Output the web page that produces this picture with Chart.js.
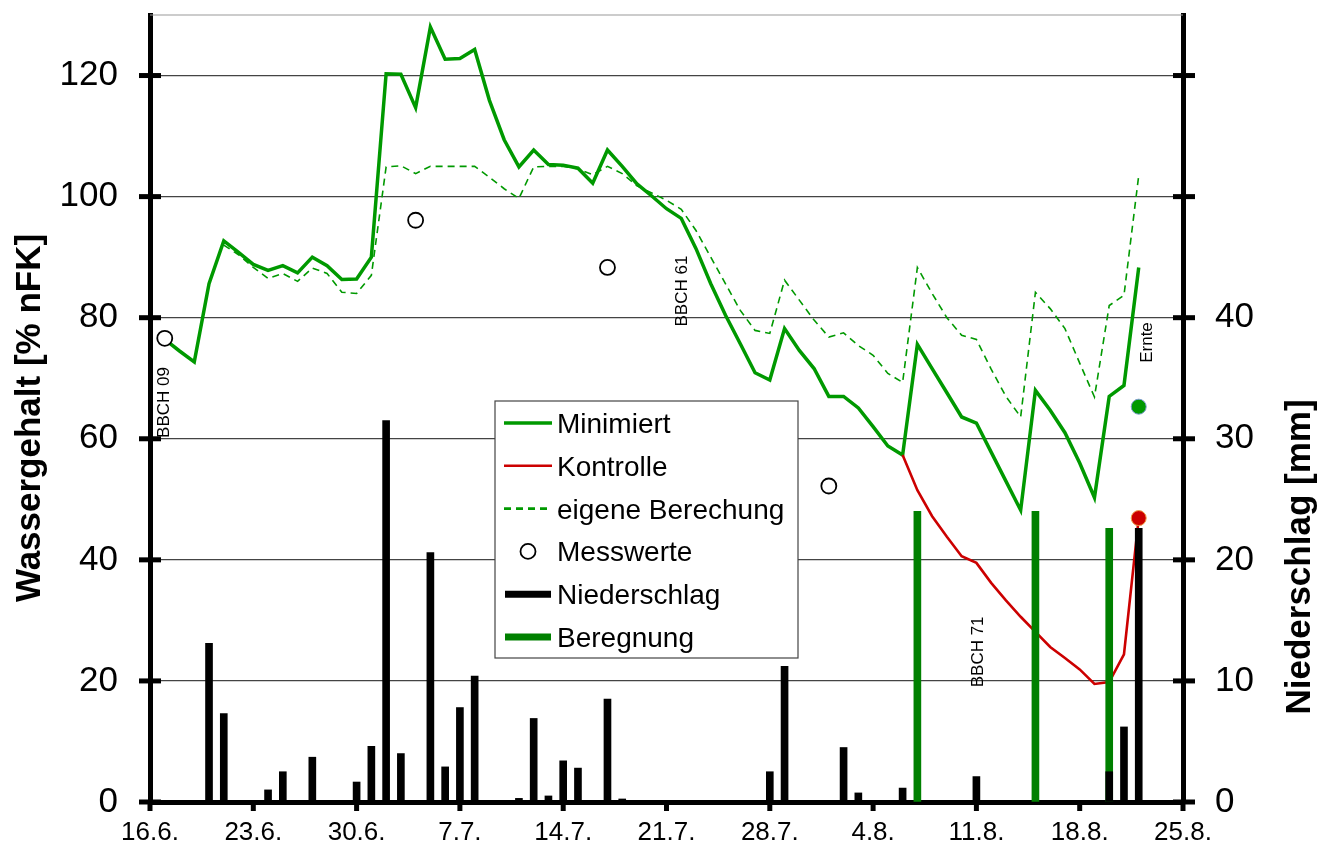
<!DOCTYPE html>
<html>
<head>
<meta charset="utf-8">
<title>Wassergehalt und Niederschlag</title>
<script src="https://cdn.jsdelivr.net/npm/chart.js@4.4.1/dist/chart.umd.min.js"></script>
<style>
  html, body { margin: 0; padding: 0; background: #ffffff; }
  canvas { display: block; }
</style>
</head>
<body>
<canvas id="chart" width="1321" height="843"></canvas>
<script>
// Day 0 = 16.6.; one tick label every 7 days
const tickLabels = ['16.6.', '23.6.', '30.6.', '7.7.', '14.7.', '21.7.', '28.7.', '4.8.', '11.8.', '18.8.', '25.8.'];

// Bodenwassergehalt [% nFK], daily values
const minimiertStart = 1;   // 17.6.
const minimiert = [
  76.4, 74.5, 72.7, 85.6, 92.7, 90.8, 88.8, 87.8, 88.6, 87.4,
  90.0, 88.6, 86.3, 86.4, 90.0, 120.3, 120.2, 114.7, 128.0, 122.7,
  122.8, 124.3, 115.9, 109.4, 104.9, 107.7, 105.3, 105.2, 104.7, 102.2,
  107.7, 105.0, 102.1, 100.1, 98.0, 96.4, 91.4, 85.6, 80.4, 75.7,
  70.9, 69.7, 78.2, 74.6, 71.6, 67.0, 67.0, 65.1, 62.0, 58.8,
  57.3, 75.6, 71.6, 67.6, 63.6, 62.6, 57.8, 53.0, 48.2, 68.0,
  64.7, 61.0, 56.0, 50.3, 67.0, 68.8, 88.3
];

const eigeneStart = 5;      // 21.6.
const eigeneBerechnung = [
  92.0, 90.4, 88.3, 86.5, 87.3, 86.0, 88.2, 87.3, 84.2, 84.0,
  87.0, 104.9, 105.1, 103.8, 105.0, 105.0, 105.0, 105.0, 103.2, 101.3,
  99.7, 104.9, 105.0, 105.0, 104.6, 103.6, 105.0, 103.8, 101.8, 100.6,
  99.4, 97.9, 94.4, 90.0, 85.6, 81.2, 77.9, 77.4, 86.2, 82.9,
  79.6, 76.8, 77.5, 75.4, 73.8, 70.8, 69.3, 88.3, 84.0, 80.0,
  77.1, 76.4, 71.5, 67.0, 63.6, 84.2, 81.5, 78.2, 72.5, 66.9,
  82.0, 83.7, 103.5
];

const kontrolleStart = 51;  // 6.8.
const kontrolle = [
  57.3, 51.5, 47.2, 43.8, 40.6, 39.5, 36.2, 33.3, 30.6, 28.1,
  25.6, 23.8, 21.9, 19.5, 19.8, 24.4, 46.9
];

// Messwerte [% nFK]
const messTage = [1, 18, 31, 46];
const messWerte = [76.6, 96.1, 88.3, 52.2];

// Werte zur Ernte (Minimiert, Kontrolle)
const ernteTag = 67;
const ernteWerte = [65.3, 46.9];

// Niederschlag [mm]
const regenTage = [4, 5, 8, 9, 11, 14, 15, 16, 17, 19, 20, 21, 22, 25, 26, 27, 28, 29, 31, 32, 42, 43, 47, 48, 51, 56, 65, 66, 67];
const regenMm = [13.1, 7.3, 1.0, 2.5, 3.7, 1.65, 4.6, 31.5, 4.0, 20.6, 2.9, 7.8, 10.4, 0.3, 6.9, 0.5, 3.4, 2.8, 8.5, 0.25, 2.5, 11.2, 4.5, 0.75, 1.15, 2.1, 2.5, 6.2, 22.6];

// Beregnung [mm]
const beregnungTage = [52, 60, 65];
const beregnungMm = [24.0, 24.0, 22.6];

// Entwicklungsstadien
const stadien = [
  { text: 'BBCH 09', day: 1.0, value: 66 },
  { text: 'BBCH 61', day: 36.1, value: 84.4 },
  { text: 'BBCH 71', day: 56.1, value: 24.8 },
  { text: 'Ernte', day: 67.6, value: 75.9 }
];

const GREEN = '#009900';
const DARK_GREEN = '#008000';
const RED = '#cc0000';
const FONT = "'Liberation Sans', Arial, Helvetica, sans-serif";

const series = (start, values) => values.map((v, i) => ({ x: start + i, y: v }));
const pairs = (days, values) => days.map((d, i) => ({ x: d, y: values[i] }));

// fixed axis sizes so the plot area spans 150..1183 x 15..802
const fixWidth = w => s => { s.width = w; s.paddingTop = 0; s.paddingBottom = 0; };

const decor = {
  id: 'decor',
  beforeDatasetsDraw(chart) {
    const { ctx, chartArea: a } = chart;
    ctx.save();
    ctx.strokeStyle = '#9a9a9a';
    ctx.lineWidth = 1.2;
    ctx.beginPath();
    ctx.moveTo(a.left, a.top);
    ctx.lineTo(a.right, a.top);
    ctx.stroke();
    ctx.restore();
  },
  afterDraw(chart) {
    const { ctx, chartArea: a, scales } = chart;
    const { x, y, y2 } = scales;
    const seg = (x1, y1, x2, y2_) => { ctx.beginPath(); ctx.moveTo(x1, y1); ctx.lineTo(x2, y2_); ctx.stroke(); };

    ctx.save();
    // tick marks crossing the axes
    ctx.strokeStyle = '#000';
    ctx.lineWidth = 5;
    y.ticks.forEach(t => { const p = y.getPixelForValue(t.value); seg(a.left - 11, p, a.left + 11, p); });
    y2.ticks.forEach(t => { const p = y2.getPixelForValue(t.value); seg(a.right - 10, p, a.right + 12, p); });
    x.ticks.forEach(t => { const p = x.getPixelForValue(t.value); seg(p, a.bottom, p, a.bottom + 9); });

    // growth stage notes
    ctx.fillStyle = '#000';
    ctx.font = '17px ' + FONT;
    ctx.textAlign = 'center';
    ctx.textBaseline = 'middle';
    stadien.forEach(s => {
      ctx.save();
      ctx.translate(x.getPixelForValue(s.day), y.getPixelForValue(s.value));
      ctx.rotate(-Math.PI / 2);
      ctx.fillText(s.text, 0, 0);
      ctx.restore();
    });

    // axis titles
    ctx.font = 'bold 35px ' + FONT;
    ctx.save();
    ctx.translate(30, 418);
    ctx.rotate(-Math.PI / 2);
    ctx.fillText('Wassergehalt [% nFK]', 0, 0);
    ctx.restore();
    ctx.save();
    ctx.translate(1300, 557);
    ctx.rotate(-Math.PI / 2);
    ctx.fillText('Niederschlag [mm]', 0, 0);
    ctx.restore();

    // legend box
    const ds = label => chart.data.datasets.find(d => d.label === label);
    const bx = 495, by = 401, bw = 303, bh = 257;
    ctx.fillStyle = '#fff';
    ctx.fillRect(bx, by, bw, bh);
    ctx.strokeStyle = '#444';
    ctx.lineWidth = 1.2;
    ctx.strokeRect(bx, by, bw, bh);

    const rows = [
      { label: 'Minimiert', kind: 'line' },
      { label: 'Kontrolle', kind: 'line' },
      { label: 'eigene Berechung', kind: 'line' },
      { label: 'Messwerte', kind: 'point' },
      { label: 'Niederschlag', kind: 'bar' },
      { label: 'Beregnung', kind: 'bar' }
    ];
    const x0 = bx + 9, x1 = bx + 57, tx = bx + 62;
    rows.forEach((r, i) => {
      const d = ds(r.label);
      const cy = by + 22 + i * 42.8;
      ctx.save();
      if (r.kind === 'line') {
        ctx.strokeStyle = d.borderColor;
        ctx.lineWidth = Math.max(d.borderWidth, 2.6);
        ctx.setLineDash(d.borderDash || []);
        seg(x0, cy, d.borderDash ? x1 - 4 : x1, cy);
      } else if (r.kind === 'bar') {
        ctx.strokeStyle = d.backgroundColor;
        ctx.lineWidth = 7;
        seg(x0 + 1, cy, x1 - 1, cy);
      } else {
        ctx.fillStyle = d.pointBackgroundColor;
        ctx.strokeStyle = d.pointBorderColor;
        ctx.lineWidth = d.pointBorderWidth;
        ctx.beginPath();
        ctx.arc((x0 + x1) / 2, cy, 7.5, 0, Math.PI * 2);
        ctx.fill();
        ctx.stroke();
      }
      ctx.restore();
      ctx.fillStyle = '#000';
      ctx.font = '28px ' + FONT;
      ctx.textAlign = 'left';
      ctx.textBaseline = 'alphabetic';
      ctx.fillText(r.label, tx, cy + 10);
    });
    ctx.restore();
  }
};

new Chart(document.getElementById('chart'), {
  type: 'line',
  data: {
    datasets: [
      {
        label: 'Ernte',
        data: ernteWerte.map(v => ({ x: ernteTag, y: v })),
        showLine: false,
        pointRadius: 7.5,
        pointBackgroundColor: [GREEN, RED],
        pointBorderColor: ['#7d9ccf', '#f0a04a'],
        pointBorderWidth: 1,
        yAxisID: 'y',
        order: 0
      },
      {
        label: 'Messwerte',
        data: pairs(messTage, messWerte),
        showLine: false,
        pointRadius: 7.5,
        pointBackgroundColor: '#ffffff',
        pointBorderColor: '#000000',
        pointBorderWidth: 1.8,
        yAxisID: 'y',
        order: 1
      },
      {
        label: 'Niederschlag',
        type: 'bar',
        data: pairs(regenTage, regenMm),
        backgroundColor: '#000000',
        barThickness: 7,
        grouped: false,
        yAxisID: 'y2',
        order: 2
      },
      {
        label: 'Beregnung',
        type: 'bar',
        data: pairs(beregnungTage, beregnungMm),
        backgroundColor: DARK_GREEN,
        barThickness: 7,
        grouped: false,
        yAxisID: 'y2',
        order: 3
      },
      {
        label: 'Kontrolle',
        data: series(kontrolleStart, kontrolle),
        borderColor: RED,
        borderWidth: 2.6,
        pointRadius: 0,
        tension: 0,
        yAxisID: 'y',
        order: 4
      },
      {
        label: 'Minimiert',
        data: series(minimiertStart, minimiert),
        borderColor: GREEN,
        borderWidth: 3.5,
        pointRadius: 0,
        tension: 0,
        yAxisID: 'y',
        order: 5
      },
      {
        label: 'eigene Berechung',
        data: series(eigeneStart, eigeneBerechnung),
        borderColor: GREEN,
        borderWidth: 1.6,
        borderDash: [7, 5],
        pointRadius: 0,
        tension: 0,
        yAxisID: 'y',
        order: 6
      }
    ]
  },
  options: {
    responsive: false,
    animation: false,
    devicePixelRatio: 1,
    layout: { padding: { top: 15, left: 0, right: 0, bottom: 0 } },
    plugins: { legend: { display: false }, tooltip: { enabled: false } },
    scales: {
      x: {
        type: 'linear',
        min: 0,
        max: 70,
        offset: false,
        afterFit(s) { s.height = 41; },
        ticks: {
          stepSize: 7,
          autoSkip: false,
          maxRotation: 0,
          padding: 15,
          color: '#000',
          font: { family: FONT, size: 26 },
          callback: v => tickLabels[Math.round(v / 7)]
        },
        grid: { display: false, drawTicks: false },
        border: { color: '#000', width: 5 }
      },
      y: {
        position: 'left',
        min: 0,
        max: 130,
        afterFit: fixWidth(150),
        ticks: {
          stepSize: 20,
          includeBounds: false,
          padding: 32,
          color: '#000',
          font: { family: FONT, size: 35 }
        },
        grid: { color: '#444', lineWidth: 1.2, drawTicks: false },
        border: { color: '#000', width: 5 }
      },
      y2: {
        position: 'right',
        min: 0,
        max: 65,
        afterFit: fixWidth(138),
        ticks: {
          stepSize: 10,
          includeBounds: false,
          padding: 32,
          color: '#000',
          font: { family: FONT, size: 35 },
          callback: v => (v <= 40 ? v : '')
        },
        grid: { drawOnChartArea: false, drawTicks: false },
        border: { color: '#000', width: 5 }
      }
    }
  },
  plugins: [decor]
});
</script>
</body>
</html>
